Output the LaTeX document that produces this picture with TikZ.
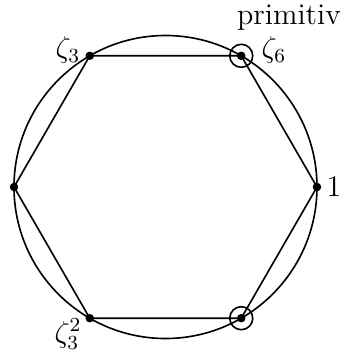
\documentclass[tikz,border=0pt]{standalone}
\begin{document}
\begin{tikzpicture}[x=0.4pt,y=-0.4pt,
  dotpt/.style={circle,fill=black,inner sep=0pt,minimum size=3.4pt},
  lbl/.style={inner sep=0pt,font=\fontsize{12}{14}\selectfont},
  edge/.style={line width=0.65pt}]
\useasboundingbox (0,0) rectangle (347,356);
\coordinate (c) at (165.5,187);
\draw[edge] (c) circle[radius=151.5];
\node[dotpt] (p0) at (317,187) {};
\node[dotpt] (p1) at (241.25,55.8) {};
\node[dotpt] (p2) at (89.75,55.8) {};
\node[dotpt] (p3) at (14,187) {};
\node[dotpt] (p4) at (89.75,318.2) {};
\node[dotpt] (p5) at (241.25,318.2) {};
\draw[edge] (p0.center) -- (p1.center) -- (p2.center) -- (p3.center) -- (p4.center) -- (p5.center) -- cycle;
\draw[edge] (p1.center) circle[radius=11.5];
\draw[edge] (p5.center) circle[radius=11.5];
\node[lbl] (l1) at (334,187) {1};
\node[lbl] (l6) at (274,50) {$\zeta_6$};
\node[lbl] (l3) at (68,50) {$\zeta_3$};
\node[lbl] (l32) at (68,334) {$\zeta_3^2$};
\node[lbl] (lp) at (289,18) {primitiv};
\end{tikzpicture}
\end{document}
